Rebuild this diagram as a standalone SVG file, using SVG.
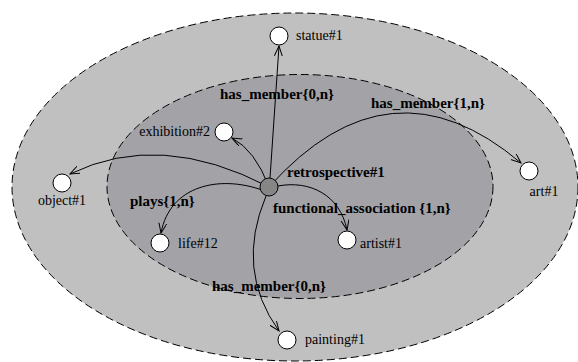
<svg xmlns="http://www.w3.org/2000/svg" width="578" height="362" viewBox="0 0 578 362">
<style>
.region{stroke:#000;stroke-width:1;stroke-dasharray:8,4}
.node{fill:#fff;stroke:#000;stroke-width:1}
.center{fill:#868686;stroke:#000;stroke-width:1}
.edge{fill:none;stroke:#000;stroke-width:1;marker-end:url(#arr)}
.lbl{font-size:14px;fill:#000}
.rel{font-size:15px;font-weight:bold;fill:#000}
</style>
<defs>
<marker id="arr" markerWidth="12" markerHeight="10" refX="10" refY="4" orient="auto" markerUnits="userSpaceOnUse">
<path d="M0,0 L10,4 L0,8" fill="none" stroke="#000" stroke-width="1"/>
</marker>
</defs>
<rect width="578" height="362" fill="#fff"/>
<g id="regions">
<ellipse class="region" cx="295" cy="187" rx="283" ry="174" fill="#c0c0c0"/>
<ellipse class="region" cx="300" cy="186.5" rx="193" ry="112" fill="#a3a2a7"/>
</g>
<g id="connectors">
<path class="edge" d="M270,178 L279,46"/>
<path class="edge" d="M269,187 Q255,150 232,138"/>
<path class="edge" d="M269,187 Q160,130 70,174"/>
<path class="edge" d="M269,187 Q390,52 521,163"/>
<path class="edge" d="M278,186 C310,180 340,195 347,230"/>
<path class="edge" d="M262,190 C220,175 170,185 161,233"/>
<path class="edge" d="M266,196 Q235,270 279,331"/>
</g>
<g font-family="'Liberation Serif', 'Times New Roman', 'DejaVu Serif', serif">
<g id="retrospective">
<circle class="center" cx="269" cy="187" r="9"/>
<text class="rel" x="287" y="177">retrospective#1</text>
</g>
<g id="statue"><circle class="node" cx="279" cy="36" r="9"/><text class="lbl" x="296" y="40">statue#1</text></g>
<g id="exhibition"><circle class="node" cx="224" cy="132" r="9"/><text class="lbl" x="210" y="136" text-anchor="end">exhibition#2</text></g>
<g id="object"><circle class="node" cx="62" cy="183" r="9"/><text class="lbl" x="62" y="205" text-anchor="middle">object#1</text></g>
<g id="life"><circle class="node" cx="160" cy="243" r="9"/><text class="lbl" x="178" y="248">life#12</text></g>
<g id="artist"><circle class="node" cx="347" cy="240" r="9"/><text class="lbl" x="360" y="248">artist#1</text></g>
<g id="art"><circle class="node" cx="529" cy="171" r="9"/><text class="lbl" x="544" y="196" text-anchor="middle">art#1</text></g>
<g id="painting"><circle class="node" cx="287" cy="340" r="9"/><text class="lbl" x="305" y="344">painting#1</text></g>
<g id="labels">
<text class="rel" x="220" y="99">has_member{0,n}</text>
<text class="rel" x="371" y="108">has_member{1,n}</text>
<text class="rel" x="273" y="213">functional_association {1,n}</text>
<text class="rel" x="130" y="206">plays{1,n}</text>
<text class="rel" x="212" y="291">has_member{0,n}</text>
</g>
</g>
</svg>
